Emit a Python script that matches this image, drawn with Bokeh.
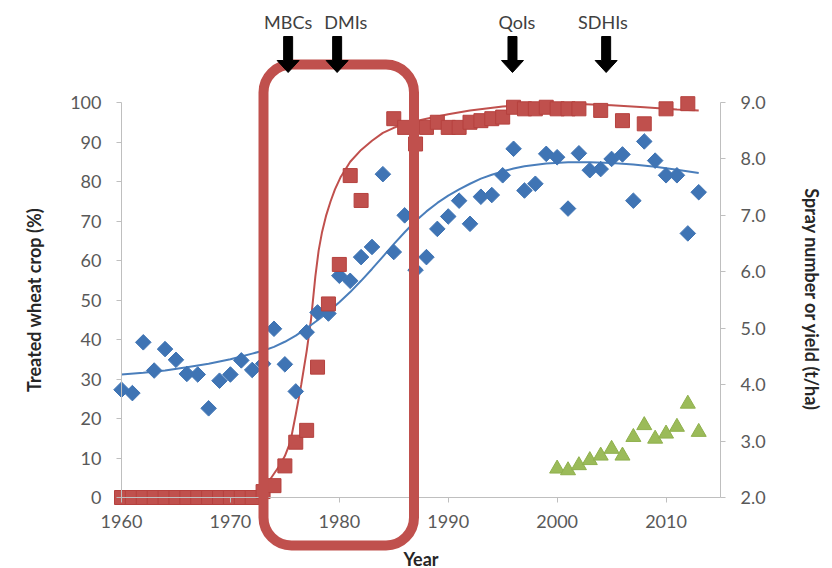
from bokeh.plotting import figure
from bokeh.models import (Range1d, LinearAxis, FixedTicker, Label, BoxAnnotation,
                          PolyAnnotation, NumeralTickFormatter)
from bokeh.embed import file_html
from bokeh.resources import INLINE

# ---- data -------------------------------------------------------------
# Share of the wheat crop treated with fungicide (%), left axis
treated_years = list(range(1960, 1983)) + [1985, 1986, 1987, 1988, 1989, 1990, 1991,
                 1992, 1993, 1994, 1995, 1996, 1997, 1998, 1999, 2000, 2001, 2002,
                 2004, 2006, 2008, 2010, 2012]
treated_pct = [0] * 13 + [1.5, 3, 8, 14, 17, 33, 49, 59, 81.5, 75.2,
               95.9, 93.7, 89.5, 93.7, 95, 93.7, 93.7,
               95, 95.4, 95.9, 96.3, 98.8, 98.4, 98.4, 98.8, 98.4, 98.4, 98.4,
               98, 95.4, 94.6, 98.4, 99.7]

# Wheat yield (t/ha), right axis
yield_years = list(range(1960, 2014))
yield_tha = [3.91, 3.85, 4.75, 4.25, 4.63, 4.44, 4.19, 4.18, 3.58, 4.07,
             4.18, 4.43, 4.26, 4.37, 4.99, 4.36, 3.88, 4.93, 5.28, 5.26,
             5.93, 5.84, 6.26, 6.44, 7.73, 6.35, 7.00, 6.03, 6.26, 6.76,
             6.98, 7.26, 6.85, 7.33, 7.36, 7.71, 8.18, 7.44, 7.56, 8.09,
             8.03, 7.12, 8.10, 7.80, 7.82, 8.00, 8.08, 7.26, 8.31, 7.97,
             7.71, 7.71, 6.68, 7.41]

# Number of fungicide sprays, right axis
spray_years = list(range(2000, 2014))
spray_number = [2.51, 2.48, 2.57, 2.66, 2.74, 2.86, 2.74, 3.07, 3.28, 3.04,
                3.13, 3.25, 3.66, 3.16]

# Fitted trend lines
treated_fit_years = [1960, 1962, 1964, 1966, 1968, 1970, 1971, 1972, 1973, 1973.5,
                     1974, 1974.5, 1975, 1975.5, 1976, 1976.5, 1977, 1977.4, 1977.8,
                     1978.1, 1978.4, 1978.8, 1979.2, 1979.6, 1980.1, 1981, 1982,
                     1983, 1984, 1985, 1986, 1988, 1990, 1992, 1995, 1999, 2002,
                     2005, 2008, 2011, 2013]
treated_fit = [0.5, 0, -0.6, -1, -1.2, -1, -0.5, 0.3, 2, 4,
               6, 8, 10.5, 14, 21, 28.5, 37, 45, 56,
               62.5, 67, 71.5, 75, 78, 81, 85, 88,
               90.3, 92.3, 93.6, 94.6, 95.9, 97, 98, 99, 99.6, 99.6,
               99.3, 98.8, 98.2, 98]

yield_fit_years = [1960, 1962, 1964, 1966, 1968, 1970, 1971, 1972, 1973, 1974,
                   1975, 1976, 1977, 1978, 1979, 1980, 1981, 1982, 1983, 1984,
                   1985, 1986, 1987, 1988, 1989, 1990, 1991, 1992, 1993, 1994,
                   1995, 1996, 1997, 1999, 2001, 2003, 2005, 2007, 2009, 2011,
                   2013]
yield_fit = [4.18, 4.21, 4.25, 4.31, 4.37, 4.45, 4.50, 4.55, 4.60, 4.67,
             4.76, 4.87, 5.00, 5.14, 5.29, 5.46, 5.64, 5.84, 6.05, 6.27,
             6.49, 6.70, 6.90, 7.07, 7.22, 7.35, 7.46, 7.56, 7.65, 7.72,
             7.78, 7.83, 7.87, 7.92, 7.94, 7.94, 7.93, 7.90, 7.86, 7.81,
             7.75]

# Fungicide class introductions
fungicide_classes = ["MBCs", "DMIs", "QoIs", "SDHIs"]
introduction_years = [1975.3, 1979.8, 1995.9, 2004.5]

left_ticks = list(range(0, 101, 10))
right_ticks = [2, 3, 4, 5, 6, 7, 8, 9]
year_ticks = [1960, 1970, 1980, 1990, 2000, 2010]

# ---- geometry -----------------------------------------------------------
W, H = 832, 568
PLOT_L, PLOT_R, PLOT_T, PLOT_B = 121, 720, 102, 497   # pixel edges of the data area
X0, X1 = 1960, 2015
Y0, Y1 = 0, 100
R0, R1 = 2, 9

# The drawing area fills the whole canvas so that the callouts above the
# chart and the highlight box are not cut off; ranges are widened to match.
xs_px = (PLOT_R - PLOT_L) / (X1 - X0)
ys_px = (PLOT_B - PLOT_T) / (Y1 - Y0)
rs_px = (PLOT_B - PLOT_T) / (R1 - R0)
x_range = Range1d(X0 - PLOT_L / xs_px, X1 + (W - PLOT_R) / xs_px)
y_range = Range1d(Y0 - (H - PLOT_B) / ys_px, Y1 + PLOT_T / ys_px)
r_range = Range1d(R0 - (H - PLOT_B) / rs_px, R1 + PLOT_T / rs_px)


def py_to_left(py):
    """Pixel row (from the top) expressed in left-axis units."""
    return Y0 + (PLOT_B - py) / ys_px


def px_to_year(px):
    return X0 + (px - PLOT_L) / xs_px


# ---- styling ------------------------------------------------------------
FONT = "Lato"
RED = "#C0504D"
BLUE = "#4A7EBB"
GREEN = "#9BBB59"
AXIS_GREY = "#BFBFBF"
TEXT_GREY = "#595959"

p = figure(width=W, height=H, output_backend="svg", toolbar_location=None,
           x_range=x_range, y_range=y_range,
           x_axis_location=None, y_axis_location=None,
           min_border=0)
p.outline_line_color = None
p.grid.visible = False
p.background_fill_color = "white"
p.border_fill_color = "white"
p.extra_y_ranges = {"right": r_range}


def style_axis(ax):
    ax.axis_line_color = AXIS_GREY
    ax.major_tick_line_color = AXIS_GREY
    ax.minor_tick_line_color = None
    ax.major_tick_out = 5
    ax.major_tick_in = 0
    ax.major_label_text_font = FONT
    ax.major_label_text_font_size = "18px"
    ax.major_label_text_color = TEXT_GREY
    ax.axis_label_text_font = FONT
    ax.axis_label_text_font_size = "18px"
    ax.axis_label_text_font_style = "bold"
    ax.axis_label_text_color = "#262626"


x_axis = LinearAxis(fixed_location=Y0, bounds=(X0, X1),
                    ticker=FixedTicker(ticks=year_ticks), axis_label="Year",
                    major_label_standoff=12, axis_label_standoff=17)
left_axis = LinearAxis(fixed_location=X0, bounds=(Y0, Y1),
                       ticker=FixedTicker(ticks=left_ticks),
                       axis_label="Treated wheat crop (%)",
                       major_label_standoff=15, axis_label_standoff=22)
right_axis = LinearAxis(y_range_name="right", fixed_location=X1, bounds=(R0, R1),
                        ticker=FixedTicker(ticks=right_ticks),
                        formatter=NumeralTickFormatter(format="0.0"),
                        axis_label="Spray number or yield (t/ha)",
                        major_label_standoff=15, axis_label_standoff=32)
for ax in (x_axis, left_axis, right_axis):
    style_axis(ax)
p.add_layout(x_axis, "below")
p.add_layout(left_axis, "left")
p.add_layout(right_axis, "right")

# ---- trend lines ----------------------------------------------------------
p.line(treated_fit_years, treated_fit, line_color=RED, line_width=2)
p.line(yield_fit_years, yield_fit, line_color=BLUE, line_width=2,
       y_range_name="right")

# ---- markers --------------------------------------------------------------
p.scatter(yield_years, yield_tha, marker="square", angle=0.785398, size=11,
          fill_color="#3F74B4", line_color="#3F74B4", y_range_name="right")
p.scatter(treated_years, treated_pct, marker="square", size=14,
          fill_color=RED, line_color="#B5413E")
p.scatter(spray_years, spray_number, marker="triangle", size=15,
          fill_color=GREEN, line_color="#8FB04C", y_range_name="right")

# ---- highlight box around the 1973-1987 take-up -----------------------------
p.add_layout(BoxAnnotation(left=px_to_year(263), right=px_to_year(413.5),
                           top=py_to_left(64), bottom=py_to_left(545),
                           fill_alpha=0, line_color=RED, line_alpha=1,
                           line_width=10, border_radius=28))

# ---- arrows marking the introduction of each fungicide class -----------------
label_x = [1975.3, 1980.6, 1996.3, 2004.2]
shaft = 4.5 / xs_px
head = 11 / xs_px
top, neck, tip = py_to_left(36), py_to_left(60), py_to_left(72)
for name, yr, lx in zip(fungicide_classes, introduction_years, label_x):
    xs = [yr - shaft, yr + shaft, yr + shaft, yr + head, yr, yr - head, yr - shaft]
    ys = [top, top, neck, neck, tip, neck, neck]
    p.add_layout(PolyAnnotation(xs=xs, ys=ys, fill_color="black", fill_alpha=1,
                                line_color="black", line_alpha=1, line_width=1))
    p.add_layout(Label(x=lx, y=py_to_left(21), text=name, text_align="center",
                       text_baseline="middle", text_font=FONT,
                       text_font_size="18px", text_color="#404040"))

open("out.html", "w").write(file_html(p, INLINE))
